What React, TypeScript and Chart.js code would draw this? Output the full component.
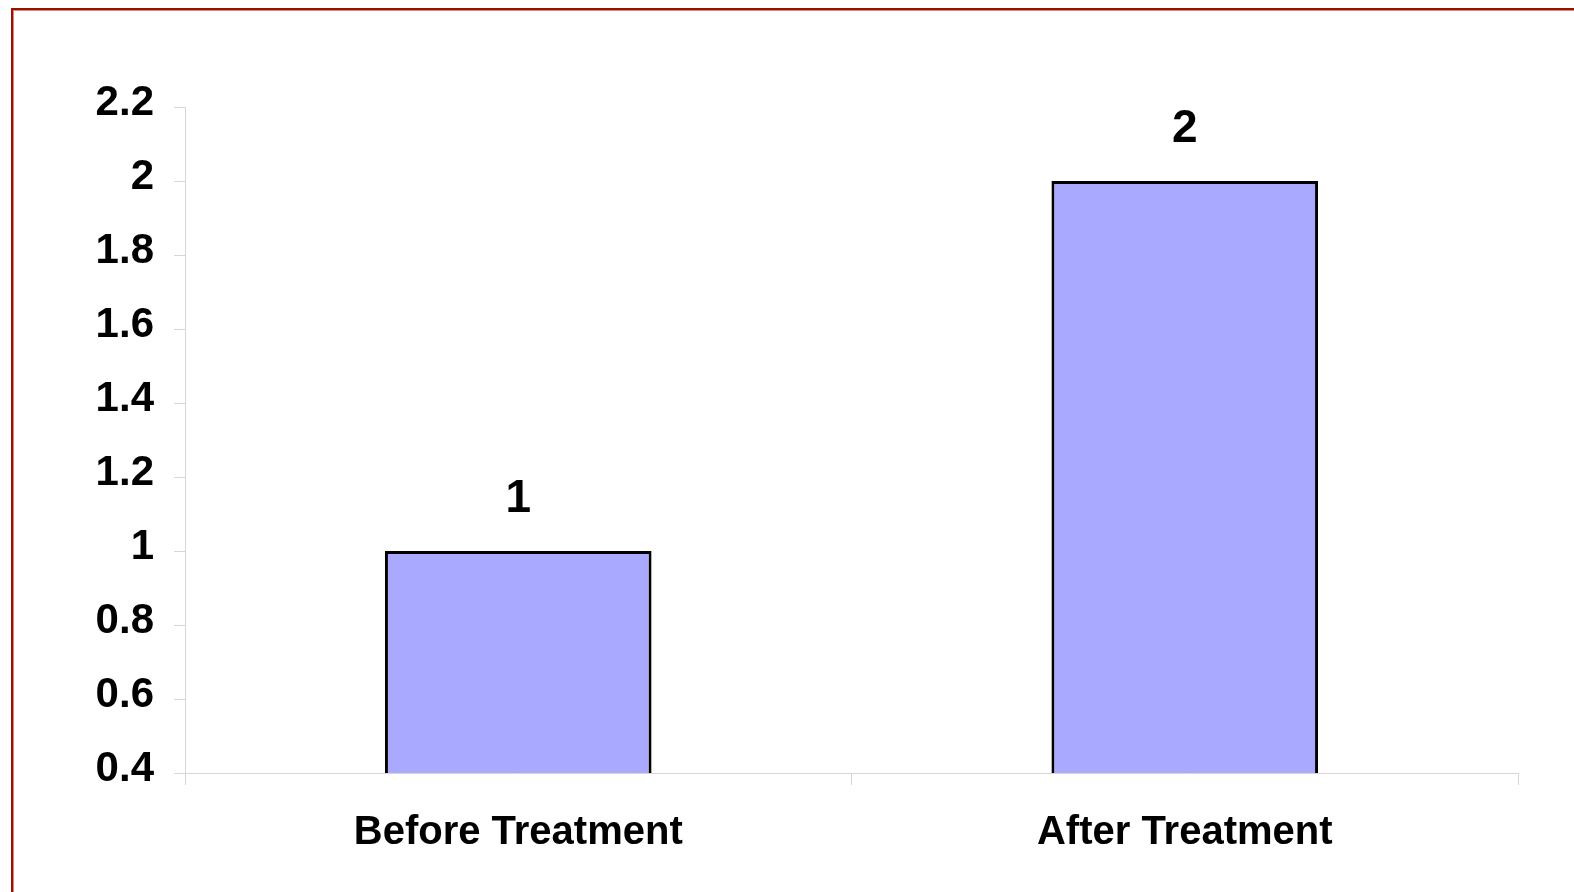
import React, { useEffect, useRef } from "react";
import { Chart, registerables } from "chart.js";

Chart.register(...registerables);

// Chart data
const categories = ["Before Treatment", "After Treatment"];
const values = [1, 2];
const yTickValues = [0.4, 0.6, 0.8, 1, 1.2, 1.4, 1.6, 1.8, 2, 2.2];
const yTickLabels = ["0.4", "0.6", "0.8", "1", "1.2", "1.4", "1.6", "1.8", "2", "2.2"];

const FONT_FAMILY = '"Liberation Sans", Arial, sans-serif';
const AXIS_GREY = "#d6d6d6";

// Draws each bar's value above it
const valueLabels = {
  id: "valueLabels",
  afterDatasetsDraw(chart: any) {
    const ctx = chart.ctx;
    const meta = chart.getDatasetMeta(0);
    ctx.save();
    ctx.font = `bold 46px ${FONT_FAMILY}`;
    ctx.fillStyle = "#000";
    ctx.textAlign = "center";
    ctx.textBaseline = "alphabetic";
    meta.data.forEach((bar: any, i: number) => {
      ctx.fillText(String(values[i]), bar.x, bar.y - 39);
    });
    ctx.restore();
  },
};

export default function App() {
  const canvasRef = useRef<HTMLCanvasElement | null>(null);

  useEffect(() => {
    if (!canvasRef.current) return;
    const chart = new Chart(canvasRef.current, {
      type: "bar",
      data: {
        labels: categories,
        datasets: [
          {
            data: values,
            backgroundColor: "#a9a9ff",
            borderColor: "#000000",
            borderWidth: 3,
            borderSkipped: false,
            barPercentage: 0.4,
            categoryPercentage: 1.0,
          },
        ],
      },
      options: {
        responsive: false,
        animation: false,
        layout: { padding: { top: 107, left: 0, right: 56, bottom: 0 } },
        plugins: {
          legend: { display: false },
          tooltip: { enabled: false },
        },
        scales: {
          x: {
            grid: {
              drawOnChartArea: false,
              drawTicks: true,
              tickLength: 12,
              color: AXIS_GREY,
            },
            border: { display: true, color: AXIS_GREY, width: 1 },
            ticks: {
              color: "#000",
              font: { family: FONT_FAMILY, size: 40, weight: "bold" },
              padding: 24,
              maxRotation: 0,
              autoSkip: false,
            },
            afterFit: (scale: any) => {
              scale.height = 119;
            },
          },
          y: {
            min: 0.4,
            max: 2.2,
            afterBuildTicks: (scale: any) => {
              scale.ticks = yTickValues.map((v) => ({ value: v }));
            },
            grid: {
              drawOnChartArea: false,
              drawTicks: true,
              tickLength: 11,
              color: AXIS_GREY,
            },
            border: { display: true, color: AXIS_GREY, width: 1 },
            ticks: {
              color: "#000",
              font: { family: FONT_FAMILY, size: 42, weight: "bold" },
              padding: 20,
              labelOffset: -4,
              callback: (_value: any, index: number) => yTickLabels[index],
            },
            afterFit: (scale: any) => {
              scale.width = 185;
            },
          },
        },
      },
      plugins: [valueLabels],
    });
    return () => chart.destroy();
  }, []);

  return (
    <div
      style={{
        position: "fixed",
        left: 0,
        top: 0,
        right: 0,
        bottom: 0,
        overflow: "hidden",
        background: "#ffffff",
      }}
    >
      <div
        style={{
          position: "absolute",
          left: 11,
          top: 8,
          width: 1700,
          height: 1000,
          border: "2px solid #9a1100",
          boxShadow: "inset 1px 1px 0 #d08a80",
        }}
      />
      <canvas
        ref={canvasRef}
        width={1574}
        height={892}
        style={{ position: "absolute", left: 0, top: 0, display: "block" }}
      />
    </div>
  );
}
